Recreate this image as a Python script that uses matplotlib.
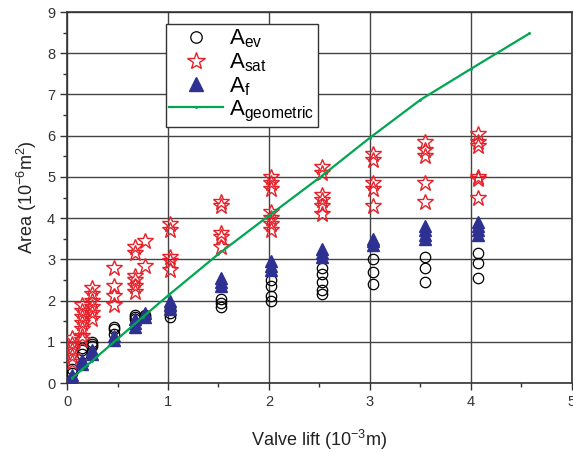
import matplotlib
matplotlib.use("Agg")
import matplotlib.pyplot as plt
from matplotlib.ticker import MultipleLocator

plt.rcParams['font.family'] = ['Liberation Sans', 'DejaVu Sans']
plt.rcParams['mathtext.fontset'] = 'custom'
plt.rcParams['mathtext.rm'] = 'Liberation Sans'
plt.rcParams['mathtext.it'] = 'Liberation Sans'

# Valve lift positions (10^-3 m) and measured areas (10^-6 m^2)
lift_sat = {
    0.05: [0.5, 0.65, 0.8, 0.95, 1.1],
    0.15: [1.05, 1.15, 1.3, 1.45, 1.6, 1.75, 1.9],
    0.25: [1.55, 1.7, 1.85, 2.0, 2.15, 2.3],
    0.47: [1.9, 2.1, 2.35, 2.8],
    0.67: [2.2, 2.35, 2.5, 2.6, 3.15, 3.3],
    0.77: [2.85, 3.45],
    1.02: [2.75, 2.95, 3.05, 3.7, 3.85],
    1.52: [3.3, 3.55, 3.65, 4.3, 4.4],
    2.02: [3.7, 3.85, 4.0, 4.15, 4.7, 4.85, 5.0],
    2.53: [4.1, 4.3, 4.45, 4.55, 5.1, 5.25],
    3.03: [4.3, 4.7, 4.85, 5.4, 5.55],
    3.55: [4.4, 4.85, 5.5, 5.65, 5.85],
    4.07: [4.5, 4.95, 5.0, 5.75, 5.85, 6.05],
}
lift_f = {
    0.05: [0.1, 0.2],
    0.15: [0.45, 0.55],
    0.25: [0.7, 0.8],
    0.47: [1.05, 1.15],
    0.67: [1.35, 1.45, 1.55],
    0.77: [1.6, 1.7],
    1.02: [1.8, 1.9, 2.0],
    1.52: [2.35, 2.45, 2.55],
    2.02: [2.75, 2.85, 2.95],
    2.53: [3.05, 3.15, 3.25],
    3.03: [3.35, 3.45, 3.5],
    3.55: [3.5, 3.6, 3.7, 3.8],
    4.07: [3.6, 3.7, 3.8, 3.9],
}
lift_ev = {
    0.05: [0.25, 0.35],
    0.15: [0.7, 0.8, 0.85],
    0.25: [0.9, 0.95, 1.0],
    0.47: [1.2, 1.3, 1.35],
    0.67: [1.55, 1.6, 1.65],
    0.77: [1.6, 1.65],
    1.02: [1.6, 1.7, 1.8],
    1.52: [1.85, 1.95, 2.05],
    2.02: [2.0, 2.1, 2.35, 2.5],
    2.53: [2.15, 2.25, 2.45, 2.65, 2.8],
    3.03: [2.4, 2.7, 3.0],
    3.55: [2.45, 2.8, 3.05],
    4.07: [2.55, 2.9, 3.15],
}
geo_x = [0.05, 0.15, 0.25, 0.5, 0.75, 1.0, 1.5, 2.0, 2.5, 3.0, 3.5, 4.0, 4.58]
geo_y = [0.12, 0.33, 0.54, 1.07, 1.6, 2.12, 3.13, 4.06, 4.98, 5.95, 6.87, 7.62, 8.48]

x_ticks = [0, 1, 2, 3, 4, 5]
y_ticks = list(range(10))


def flatten(d):
    xs, ys = [], []
    for k, vals in d.items():
        xs += [k] * len(vals)
        ys += vals
    return xs, ys


fig = plt.figure(figsize=(5.73, 4.53), dpi=100)
ax = fig.add_axes([0.117, 0.1545, 0.881, 0.819])

ex, ey = flatten(lift_ev)
sx, sy = flatten(lift_sat)
fx, fy = flatten(lift_f)

ax.plot(ex, ey, 'o', ls='none', ms=7.5, mfc='none', mec='black', mew=0.9,
        label=r'$\mathrm{A}_{\mathrm{ev}}$', zorder=3)
ax.plot(sx, sy, '*', ls='none', ms=12, mfc='none', mec='#e8202a', mew=1.0,
        label=r'$\mathrm{A}_{\mathrm{sat}}$', zorder=4)
ax.plot(fx, fy, '^', ls='none', ms=9, mfc='#2e3192', mec='#2e3192',
        label=r'$\mathrm{A}_{\mathrm{f}}$', zorder=5)
ax.plot(geo_x, geo_y, '-', marker='.', ms=2, color='#00a651', lw=1.6,
        label=r'$\mathrm{A}_{\mathrm{geometric}}$', zorder=6)

ax.set_xlim(0, 5)
ax.set_ylim(0, 9)
ax.set_xticks(x_ticks)
ax.set_yticks(y_ticks)
ax.xaxis.set_minor_locator(MultipleLocator(0.5))
ax.yaxis.set_minor_locator(MultipleLocator(0.5))
ax.tick_params(which='major', direction='out', length=5, width=1,
               labelsize=10.5, colors='#333333')
ax.tick_params(which='minor', direction='out', length=3, width=1, colors='#333333')
ax.grid(True, which='major', color='#444444', lw=1)
ax.set_axisbelow(True)
for s in ax.spines.values():
    s.set_color('#333333')
    s.set_linewidth(1.2)

ax.set_xlabel(r'Valve lift (10$^{-3}$m)', fontsize=13, color='#222222', labelpad=14)
ax.set_ylabel(r'Area (10$^{-6}$m$^{2}$)', fontsize=13, color='#222222', labelpad=6)

leg = ax.legend(loc='upper left', bbox_to_anchor=(0.196, 0.967), fontsize=16,
                frameon=True, fancybox=False, edgecolor='#333333',
                handlelength=2.4, labelspacing=0.05, borderpad=0.15,
                handletextpad=0.3, borderaxespad=0, markerscale=1.1)
leg.get_frame().set_linewidth(1.0)
leg.get_frame().set_alpha(1)

fig.savefig('out.png', dpi=100)
